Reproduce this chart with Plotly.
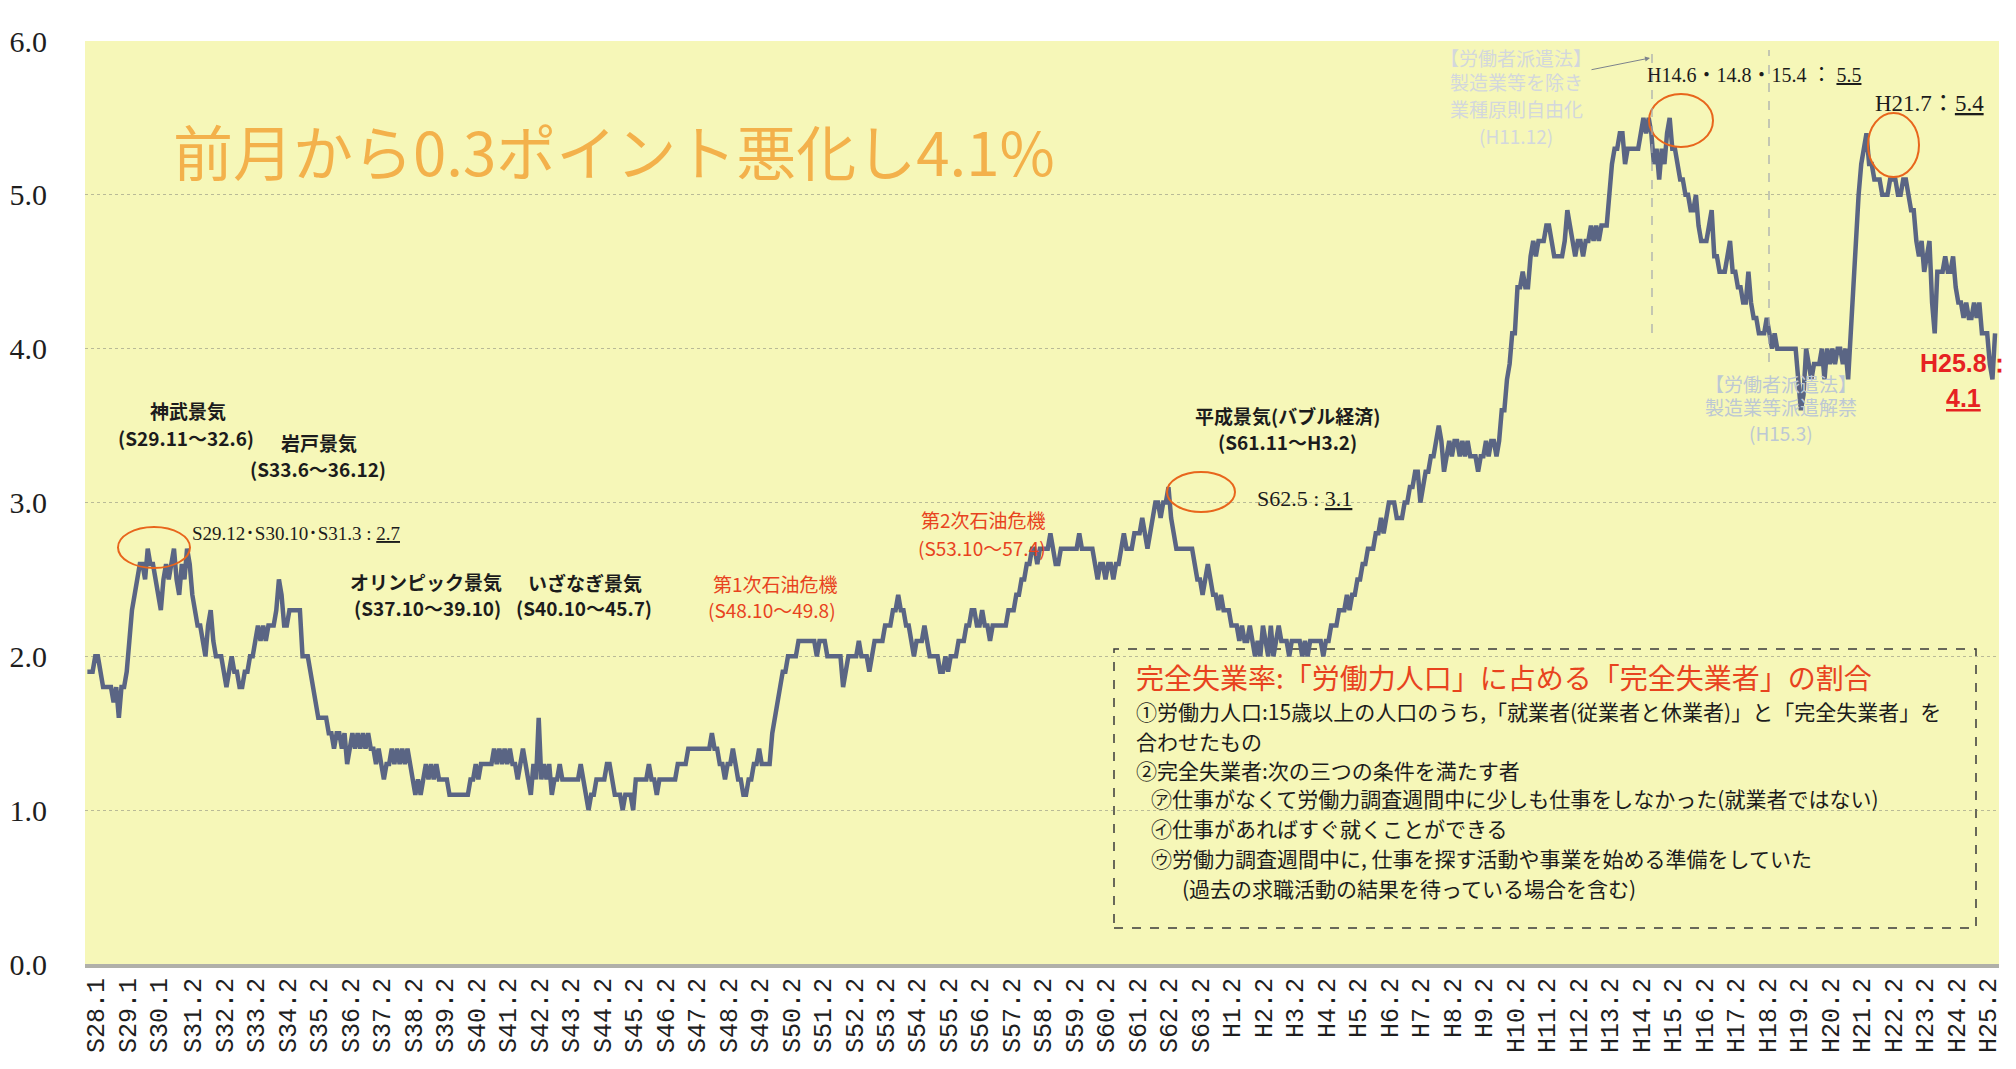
import plotly.graph_objects as go

# monthly unemployment rate (%), S28.1 (1953.1) .. H25.8 (2013.8), one row per calendar year
rate_1953_1959 = [
  1.9, 1.9, 1.9, 2.0, 2.0, 1.9, 1.8, 1.8, 1.8, 1.8, 1.7, 1.8,
  1.6, 1.8, 1.8, 1.9, 2.1, 2.3, 2.4, 2.5, 2.6, 2.6, 2.5, 2.7,
  2.6, 2.6, 2.5, 2.4, 2.3, 2.5, 2.6, 2.5, 2.6, 2.7, 2.5, 2.4,
  2.6, 2.5, 2.7, 2.6, 2.4, 2.3, 2.2, 2.2, 2.1, 2.0, 2.2, 2.3,
  2.1, 2.0, 2.0, 2.0, 1.9, 1.8, 1.9, 2.0, 1.9, 1.9, 1.8, 1.8,
  1.9, 1.9, 2.0, 2.0, 2.1, 2.2, 2.1, 2.2, 2.1, 2.2, 2.2, 2.2,
  2.3, 2.5, 2.4, 2.2, 2.2, 2.3, 2.3, 2.3, 2.3, 2.3, 2.0, 2.0,
]
rate_1960s = [
  2.0, 1.9, 1.8, 1.7, 1.6, 1.6, 1.6, 1.6, 1.5, 1.5, 1.4, 1.5,
  1.5, 1.4, 1.5, 1.3, 1.4, 1.5, 1.4, 1.5, 1.4, 1.5, 1.4, 1.5,
  1.4, 1.4, 1.3, 1.4, 1.3, 1.2, 1.3, 1.3, 1.4, 1.3, 1.4, 1.3,
  1.4, 1.3, 1.4, 1.3, 1.2, 1.1, 1.2, 1.1, 1.2, 1.3, 1.2, 1.3,
  1.2, 1.3, 1.2, 1.2, 1.2, 1.2, 1.1, 1.1, 1.1, 1.1, 1.1, 1.1,
  1.1, 1.1, 1.2, 1.2, 1.3, 1.2, 1.3, 1.3, 1.3, 1.3, 1.3, 1.4,
  1.3, 1.4, 1.3, 1.4, 1.3, 1.4, 1.3, 1.3, 1.2, 1.3, 1.4, 1.3,
  1.2, 1.1, 1.3, 1.2, 1.6, 1.2, 1.3, 1.2, 1.3, 1.1, 1.2, 1.2,
  1.3, 1.2, 1.2, 1.2, 1.2, 1.2, 1.2, 1.2, 1.3, 1.2, 1.1, 1.0,
  1.1, 1.1, 1.2, 1.2, 1.2, 1.2, 1.3, 1.3, 1.2, 1.1, 1.1, 1.1,
]
rate_1970s = [
  1.0, 1.1, 1.1, 1.1, 1.0, 1.2, 1.2, 1.2, 1.2, 1.2, 1.3, 1.2,
  1.2, 1.1, 1.2, 1.2, 1.2, 1.2, 1.2, 1.2, 1.2, 1.3, 1.3, 1.3,
  1.3, 1.4, 1.4, 1.4, 1.4, 1.4, 1.4, 1.4, 1.4, 1.4, 1.5, 1.4,
  1.4, 1.3, 1.3, 1.2, 1.3, 1.3, 1.4, 1.3, 1.2, 1.2, 1.1, 1.1,
  1.2, 1.2, 1.3, 1.3, 1.4, 1.3, 1.3, 1.3, 1.3, 1.5, 1.6, 1.7,
  1.8, 1.9, 1.9, 2.0, 2.0, 2.0, 2.0, 2.1, 2.1, 2.1, 2.1, 2.1,
  2.1, 2.1, 2.0, 2.1, 2.1, 2.1, 2.0, 2.0, 2.0, 2.0, 2.0, 2.0,
  1.8, 1.9, 2.0, 2.0, 2.0, 2.0, 2.1, 2.0, 2.0, 2.0, 1.9, 2.0,
  2.1, 2.1, 2.1, 2.1, 2.2, 2.2, 2.2, 2.3, 2.3, 2.4, 2.3, 2.3,
  2.2, 2.2, 2.1, 2.0, 2.1, 2.1, 2.1, 2.2, 2.1, 2.0, 2.0, 2.0,
]
rate_1980s = [
  2.0, 1.9, 1.9, 2.0, 1.9, 2.0, 2.0, 2.0, 2.1, 2.1, 2.1, 2.2,
  2.2, 2.3, 2.3, 2.2, 2.2, 2.3, 2.2, 2.2, 2.1, 2.2, 2.2, 2.2,
  2.2, 2.2, 2.2, 2.3, 2.3, 2.3, 2.4, 2.4, 2.5, 2.5, 2.6, 2.6,
  2.7, 2.7, 2.6, 2.7, 2.7, 2.7, 2.7, 2.8, 2.7, 2.6, 2.6, 2.7,
  2.7, 2.7, 2.7, 2.7, 2.7, 2.7, 2.8, 2.7, 2.7, 2.7, 2.7, 2.7,
  2.6, 2.5, 2.6, 2.6, 2.5, 2.6, 2.6, 2.5, 2.6, 2.6, 2.7, 2.8,
  2.7, 2.7, 2.7, 2.8, 2.8, 2.8, 2.9, 2.8, 2.7, 2.8, 2.9, 3.0,
  3.0, 2.9, 3.0, 3.0, 3.1, 2.9, 2.8, 2.7, 2.7, 2.7, 2.7, 2.7,
  2.7, 2.7, 2.6, 2.5, 2.5, 2.4, 2.5, 2.6, 2.5, 2.4, 2.4, 2.3,
  2.4, 2.3, 2.3, 2.3, 2.2, 2.2, 2.2, 2.1, 2.2, 2.1, 2.1, 2.2,
]
rate_1990s = [
  2.1, 2.0, 2.1, 2.0, 2.2, 2.1, 2.0, 2.2, 2.0, 2.1, 2.2, 2.1,
  2.1, 2.1, 2.0, 2.1, 2.1, 2.1, 2.1, 2.0, 2.1, 2.0, 2.1, 2.1,
  2.1, 2.1, 2.1, 2.0, 2.1, 2.1, 2.2, 2.2, 2.2, 2.3, 2.3, 2.3,
  2.4, 2.3, 2.4, 2.4, 2.5, 2.5, 2.6, 2.6, 2.7, 2.7, 2.7, 2.8,
  2.8, 2.9, 2.8, 2.9, 3.0, 3.0, 3.0, 2.9, 2.9, 2.9, 3.0, 3.0,
  3.1, 3.1, 3.2, 3.2, 3.0, 3.1, 3.2, 3.2, 3.3, 3.3, 3.4, 3.5,
  3.4, 3.2, 3.3, 3.4, 3.3, 3.4, 3.4, 3.3, 3.4, 3.3, 3.4, 3.3,
  3.3, 3.3, 3.2, 3.3, 3.3, 3.4, 3.3, 3.4, 3.4, 3.3, 3.4, 3.6,
  3.6, 3.8, 3.9, 4.1, 4.1, 4.4, 4.4, 4.5, 4.4, 4.4, 4.6, 4.7,
  4.6, 4.7, 4.7, 4.7, 4.8, 4.8, 4.7, 4.6, 4.6, 4.6, 4.6, 4.7,
]
rate_2000s = [
  4.9, 4.8, 4.7, 4.6, 4.7, 4.7, 4.6, 4.7, 4.7, 4.8, 4.7, 4.8,
  4.7, 4.8, 4.8, 4.8, 5.0, 5.2, 5.3, 5.3, 5.4, 5.4, 5.2, 5.3,
  5.3, 5.3, 5.3, 5.3, 5.4, 5.5, 5.4, 5.5, 5.4, 5.2, 5.3, 5.1,
  5.3, 5.2, 5.4, 5.5, 5.3, 5.3, 5.2, 5.1, 5.1, 5.0, 5.0, 4.9,
  4.9, 5.0, 4.8, 4.7, 4.7, 4.7, 4.8, 4.9, 4.6, 4.6, 4.5, 4.5,
  4.5, 4.6, 4.7, 4.5, 4.5, 4.4, 4.4, 4.3, 4.3, 4.5, 4.3, 4.2,
  4.2, 4.1, 4.1, 4.1, 4.2, 4.1, 4.0, 4.1, 4.0, 4.0, 4.0, 4.0,
  4.0, 4.0, 4.0, 4.0, 3.8, 3.6, 3.7, 4.0, 3.9, 3.8, 3.9, 3.9,
  3.9, 4.0, 3.8, 4.0, 3.9, 4.0, 3.9, 4.0, 4.0, 3.9, 4.0, 3.8,
  4.1, 4.4, 4.8, 5.0, 5.2, 5.3, 5.4, 5.2, 5.2, 5.1, 5.1, 5.1,
]
rate_2010_2013 = [
  5.0, 5.0, 5.0, 5.1, 5.1, 5.1, 5.0, 5.0, 5.1, 5.1, 5.0, 4.9,
  4.9, 4.7, 4.6, 4.7, 4.5, 4.6, 4.7, 4.3, 4.1, 4.5, 4.5, 4.5,
  4.6, 4.5, 4.5, 4.6, 4.4, 4.3, 4.3, 4.2, 4.3, 4.2, 4.2, 4.3,
  4.2, 4.3, 4.1, 4.1, 4.1, 3.9, 3.8, 4.1,
]

tick_labels = [
  "S28.1", "S29.1", "S30.1", "S31.2", "S32.2", "S33.2", "S34.2", "S35.2",
  "S36.2", "S37.2", "S38.2", "S39.2", "S40.2", "S41.2", "S42.2", "S43.2",
  "S44.2", "S45.2", "S46.2", "S47.2", "S48.2", "S49.2", "S50.2", "S51.2",
  "S52.2", "S53.2", "S54.2", "S55.2", "S56.2", "S57.2", "S58.2", "S59.2",
  "S60.2", "S61.2", "S62.2", "S63.2", "H1.2", "H2.2", "H3.2", "H4.2",
  "H5.2", "H6.2", "H7.2", "H8.2", "H9.2", "H10.2", "H11.2", "H12.2",
  "H13.2", "H14.2", "H15.2", "H16.2", "H17.2", "H18.2", "H19.2", "H20.2",
  "H21.2", "H22.2", "H23.2", "H24.2", "H25.2",
]

rate = (rate_1953_1959 + rate_1960s + rate_1970s + rate_1980s
        + rate_1990s + rate_2000s + rate_2010_2013)
months = list(range(len(rate)))  # 0 = S28.1


def month_index(label):
  era, ym = label[0], label[1:]
  y, m = ym.split('.')
  year = (1925 if era == 'S' else 1988) + int(y)
  return (year - 1953) * 12 + int(m) - 1

LABEL_SHIFT = 3.3  # the original labels sit a bit right of their month
tick_vals = [month_index(t) + LABEL_SHIFT for t in tick_labels]

# the page body has an 8px margin; figure is sized so it still fills the window
BODY = 8
FIG_W, FIG_H = 2016 - BODY, 1069 - BODY

# plot area in page pixels
L, T, W, H = 85, 41, 1914, 923

def px(x, y):
  return (x - L) / W, (T + H - y) / H

JP = "Noto Sans CJK JP"
SERIF = "Liberation Serif, Noto Sans CJK JP"
INK = "#1c1c1c"
RED = "#e8431e"
FADE = "#d3d7dd"

annotations = []

def note(text, x, y, size=19, color=INK, family=JP, anchor="center", bold=False):
  ax, ay = px(x, y)
  annotations.append(dict(
    text=text, x=ax, y=ay, xref="paper", yref="paper", showarrow=False,
    xanchor=anchor, yanchor="middle",
    font=dict(family=family, size=size, color=color,
              weight="bold" if bold else "normal")))

def ul(s):
  return "<span style='text-decoration:underline'>" + s + "</span>"

note("前月から0.3ポイント悪化し4.1%", 171, 149, size=60, color="#f3b14b", anchor="left")

note("神武景気", 188, 411, bold=True)
note("(S29.11～32.6)", 186, 437, bold=True)
note("岩戸景気", 319, 443, bold=True)
note("(S33.6～36.12)", 318, 468, bold=True)
note("S29.12･S30.10･S31.3 : " + ul("2.7"), 190, 533, size=19, family=SERIF, anchor="left")
note("オリンピック景気", 426, 581, bold=True)
note("(S37.10～39.10)", 427, 607, bold=True)
note("いざなぎ景気", 585, 582, bold=True)
note("(S40.10～45.7)", 584, 607, bold=True)
note("第1次石油危機", 775, 583, color=RED)
note("(S48.10～49.8)", 772, 609, color=RED)
note("第2次石油危機", 983, 520, color=RED)
note("(S53.10～57.4)", 982, 547, color=RED)
note("平成景気(バブル経済)", 1287, 415, bold=True)
note("(S61.11～H3.2)", 1287, 442, bold=True)
note("S62.5 : " + ul("3.1"), 1255, 498, size=22, family=SERIF, anchor="left")
note("H14.6・14.8・15.4 ： " + ul("5.5"), 1645, 75, size=20, family=SERIF, anchor="left")
note("H21.7：" + ul("5.4"), 1873, 103, size=23, family=SERIF, anchor="left")
note("H25.8：", 1918, 363, size=25, color="#e62222", family="Liberation Sans", anchor="left", bold=True)
note(ul("4.1"), 1944, 398, size=25, color="#e62222", family="Liberation Sans", anchor="left", bold=True)

for txt, y in [("【労働者派遣法】", 57), ("製造業等を除き", 82), ("業種原則自由化", 108), ("(H11.12)", 135)]:
  note(txt, 1516, y, size=19, color=FADE)
for txt, y in [("【労働者派遣法】", 383), ("製造業等派遣解禁", 406), ("(H15.3)", 432)]:
  note(txt, 1781, y, size=19, color="#bdc8d4")

# arrow from the faded note to the H14.6 line
hx, hy = px(1650, 58)
annotations.append(dict(x=hx, y=hy, xref="paper", yref="paper", text="", showarrow=True,
                        ax=-60, ay=12, arrowhead=2, arrowsize=1, arrowwidth=1,
                        arrowcolor="#7d838c"))

# definition box
note("完全失業率:「労働力人口」に占める「完全失業者」の割合", 1134, 677, size=28, color=RED, anchor="left")
box_lines = [
  ("①労働力人口:15歳以上の人口のうち,「就業者(従業者と休業者)」と「完全失業者」を", 1134, 711),
  ("合わせたもの", 1134, 741),
  ("②完全失業者:次の三つの条件を満たす者", 1134, 770),
  ("㋐仕事がなくて労働力調査週間中に少しも仕事をしなかった(就業者ではない)", 1149, 798),
  ("㋑仕事があればすぐ就くことができる", 1149, 828),
  ("㋒労働力調査週間中に, 仕事を探す活動や事業を始める準備をしていた", 1149, 858),
  ("(過去の求職活動の結果を待っている場合を含む)", 1180, 888),
]
for txt, x, y in box_lines:
  note(txt, x, y, size=21, anchor="left")

shapes = []

def ring(x0, y0, x1, y1):
  a, b = px(x0, y1)
  c, d = px(x1, y0)
  shapes.append(dict(type="circle", xref="paper", yref="paper", x0=a, y0=b, x1=c, y1=d,
                     line=dict(color="#e8661c", width=2)))

ring(118, 527, 190, 568)
ring(1167, 472, 1235, 512)
ring(1649, 94, 1713, 147)
ring(1868, 113, 1919, 177)

for x, y0, y1 in [(1652, 50, 333), (1769, 50, 362)]:
  a, b = px(x, y1)
  _, d = px(x, y0)
  shapes.append(dict(type="line", xref="paper", yref="paper", x0=a, x1=a, y0=b, y1=d,
                     line=dict(color="#a3a7ad", width=1.2, dash="dash")))

a, b = px(1114, 928)
c, d = px(1976, 649)
shapes.append(dict(type="rect", xref="paper", yref="paper", x0=a, y0=b, x1=c, y1=d,
                   line=dict(color="#3a3a3a", width=1.5, dash="dash"), layer="below"))

fig = go.Figure(go.Scatter(
  x=months, y=rate, mode="lines",
  line=dict(color="#5a6584", width=4.5),
  hoverinfo="skip", showlegend=False,
))

fig.update_layout(
  width=FIG_W, height=FIG_H,
  margin=dict(l=L - BODY, r=FIG_W - (L - BODY) - W, t=T - BODY, b=FIG_H - (T - BODY) - H),
  paper_bgcolor="#ffffff", plot_bgcolor="#f6f7b8",
  annotations=annotations, shapes=shapes,
  xaxis=dict(
    range=[-0.9, 728.5], tickmode="array", tickvals=tick_vals, ticktext=tick_labels,
    tickangle=-90, tickfont=dict(family="Liberation Mono", size=25, color="#1e1e1e"),
    showgrid=False, zeroline=False, ticks="", automargin=False,
    showline=True, linecolor="rgba(150,150,140,0.75)", linewidth=4,
  ),
  yaxis=dict(
    range=[0, 6], dtick=1, tickformat=".1f",
    tickfont=dict(family="Liberation Serif", size=30, color="#1e1e1e"),
    showgrid=True, gridcolor="rgba(110,110,110,0.45)", griddash="dot", gridwidth=1,
    zeroline=False, ticks="", ticklabelstandoff=37, automargin=False,
  ),
)

fig.write_html("out.html")
